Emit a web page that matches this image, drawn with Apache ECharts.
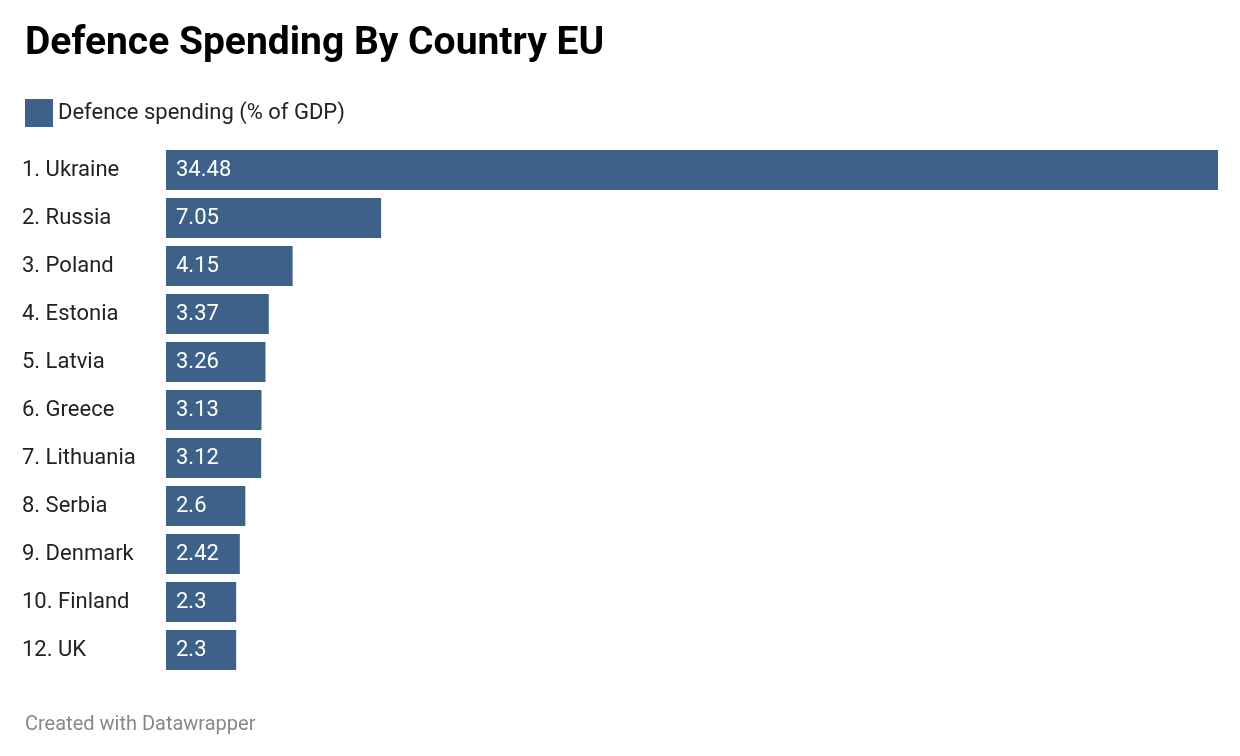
<!DOCTYPE html>
<html>
<head>
<meta charset="utf-8">
<script src="https://cdn.jsdelivr.net/npm/echarts@6/dist/echarts.min.js"></script>
<style>
  html, body { margin: 0; padding: 0; background: #fff; }
  #chart { width: 1240px; height: 756px; }
</style>
</head>
<body>
<div id="chart"></div>
<script>
const countries = ["1. Ukraine", "2. Russia", "3. Poland", "4. Estonia", "5. Latvia", "6. Greece",
  "7. Lithuania", "8. Serbia", "9. Denmark", "10. Finland", "12. UK"];
const spending = [34.48, 7.05, 4.15, 3.37, 3.26, 3.13, 3.12, 2.6, 2.42, 2.3, 2.3];

const chart = echarts.init(document.getElementById("chart"));
chart.setOption({
  animation: false,
  textStyle: { fontFamily: "Roboto" },
  title: [
    {
      text: "Defence Spending By Country EU",
      left: 20, top: 20,
      textStyle: { fontSize: 39, fontWeight: "bold", color: "#000", fontFamily: "Roboto" }
    },
    {
      text: "Created with Datawrapper",
      left: 20, top: 710,
      textStyle: { fontSize: 20, fontWeight: "normal", color: "#888", fontFamily: "Roboto" }
    }
  ],
  legend: {
    left: 20, top: 94,
    itemWidth: 28, itemHeight: 28, itemGap: 8,
    icon: "rect",
    textStyle: { fontSize: 22, color: "#222", fontFamily: "Roboto" },
    data: ["Defence spending (% of GDP)"]
  },
  grid: { left: 166, right: 22, top: 146, height: 528 },
  xAxis: { type: "value", min: 0, max: 34.48, show: false },
  yAxis: {
    type: "category",
    data: countries,
    inverse: true,
    axisLine: { show: false },
    axisTick: { show: false },
    axisLabel: {
      align: "left", margin: 144, fontSize: 22, color: "#222",
      fontFamily: "Roboto", verticalAlign: "middle", padding: [0, 0, 6, 0]
    }
  },
  series: [{
    name: "Defence spending (% of GDP)",
    type: "bar",
    data: spending,
    barCategoryGap: "17%",
    itemStyle: { color: "#3d6189" },
    label: {
      show: true, position: "insideLeft", distance: 10,
      color: "#fff", fontSize: 22, fontFamily: "Roboto"
    }
  }]
});
</script>
</body>
</html>
